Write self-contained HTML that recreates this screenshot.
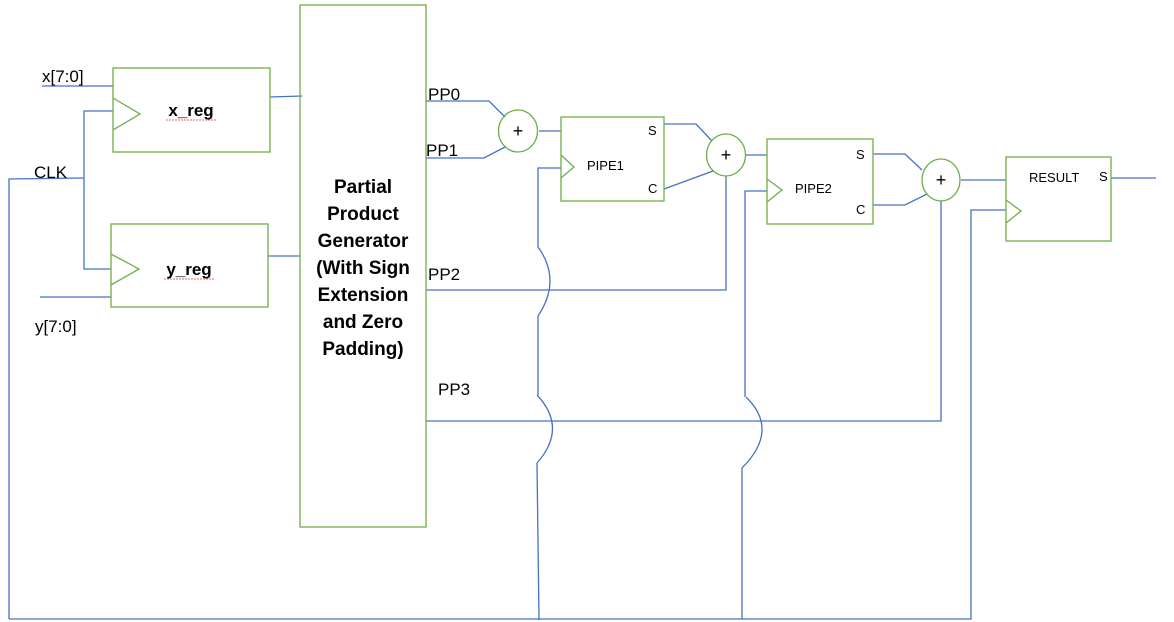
<!DOCTYPE html>
<html><head><meta charset="utf-8"><style>
html,body{margin:0;padding:0;background:#fff;}
svg{display:block;}
text{font-family:"Liberation Sans",sans-serif;fill:#000;}
</style></head><body>
<svg width="1174" height="622" viewBox="0 0 1174 622" xmlns="http://www.w3.org/2000/svg">
<g fill="none" stroke="#4472C4" stroke-width="1.3">
<line x1="42" y1="86" x2="113" y2="86"/>
<line x1="40" y1="297" x2="111" y2="297"/>
<polyline points="9,619 9,179 84,178"/>
<polyline points="113,111 84,111 84,269 111,269"/>
<line x1="270" y1="97" x2="302" y2="96"/>
<line x1="268" y1="256" x2="300" y2="256"/>
<polyline points="426,101 489,101 505,117"/>
<polyline points="426,158 484,158 505,147"/>
<line x1="539" y1="131" x2="561" y2="131"/>
<polyline points="561,168 538,168 538,247"/>
<path d="M538,247 Q562,280 538,316"/>
<polyline points="538,316 538,395"/>
<path d="M537,395 Q568,428 537,463"/>
<polyline points="537,463 539,620"/>
<polyline points="664,124 696,124 712,141"/>
<line x1="664" y1="189" x2="713" y2="171"/>
<line x1="746" y1="155" x2="767" y2="155"/>
<polyline points="426,290 726,290 726,176"/>
<polyline points="767,191 745,191 745,397"/>
<path d="M746,397 Q780,430 742,468"/>
<polyline points="742,468 742,619"/>
<polyline points="873,154 905,154 922,170"/>
<polyline points="873,205 905,205 927,194"/>
<line x1="961" y1="180" x2="1006" y2="180"/>
<polyline points="426,421 941,421 941,201"/>
<polyline points="9,619 971,619 971,210 1006,210"/>
<line x1="1111" y1="178" x2="1156" y2="178"/>
</g>
<g fill="none" stroke="#70AD47" stroke-width="1.3">
<rect x="113" y="68" width="157" height="84"/>
<polyline points="113,98 140,114 113,130"/>
<rect x="111" y="224" width="157" height="83"/>
<polyline points="111,254 139,269 111,285"/>
<rect x="300" y="5" width="126" height="522"/>
<ellipse cx="518" cy="131" rx="19.5" ry="21"/>
<rect x="561" y="117" width="103" height="84"/>
<polyline points="561,155 574,167 561,178"/>
<ellipse cx="726" cy="155" rx="19.5" ry="21"/>
<rect x="767" y="139" width="106" height="85"/>
<polyline points="767,179 782,190 767,202"/>
<ellipse cx="941" cy="180" rx="19" ry="21"/>
<rect x="1006" y="157" width="105" height="84"/>
<polyline points="1006,200 1021,211 1006,223"/>
</g>
<g fill="none" stroke="#e03030" stroke-width="0.8" stroke-dasharray="2,1">
<line x1="166" y1="120" x2="217" y2="120"/>
<line x1="164" y1="279" x2="215" y2="279"/>
</g>
<text x="42" y="82" font-size="17">x[7:0]</text>
<text x="34" y="178" font-size="17">CLK</text>
<text x="35" y="332" font-size="17">y[7:0]</text>
<text x="191" y="116" font-size="17" font-weight="bold" text-anchor="middle">x_reg</text>
<text x="189" y="275" font-size="17" font-weight="bold" text-anchor="middle">y_reg</text>
<g font-size="19" font-weight="bold" text-anchor="middle">
<text x="363" y="193">Partial</text>
<text x="363" y="220">Product</text>
<text x="363" y="247">Generator</text>
<text x="363" y="274">(With Sign</text>
<text x="363" y="301">Extension</text>
<text x="363" y="328">and Zero</text>
<text x="363" y="355">Padding)</text>
</g>
<text x="428" y="100" font-size="17">PP0</text>
<text x="426" y="156" font-size="17">PP1</text>
<text x="428" y="280" font-size="17">PP2</text>
<text x="438" y="395" font-size="17">PP3</text>
<g font-size="18" text-anchor="middle"><text x="518" y="137">+</text><text x="726" y="161">+</text><text x="941" y="186">+</text></g>
<g font-size="13">
<text x="587" y="170">PIPE1</text>
<text x="648" y="135">S</text>
<text x="648" y="193">C</text>
<text x="795" y="193">PIPE2</text>
<text x="856" y="159">S</text>
<text x="856" y="214">C</text>
<text x="1029" y="182">RESULT</text>
<text x="1099" y="181">S</text>
</g>
</svg>
</body></html>
